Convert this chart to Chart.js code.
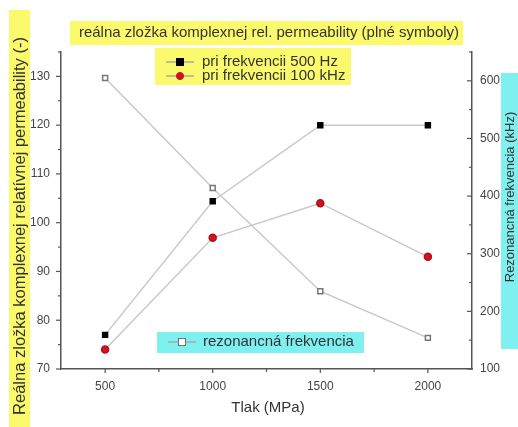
<!DOCTYPE html>
<html>
<head>
<meta charset="utf-8">
<script src="https://cdn.jsdelivr.net/npm/chart.js@4.4.1/dist/chart.umd.min.js"></script>
<style>
  html, body { margin: 0; padding: 0; background: #fff; }
  #wrap { position: relative; width: 518px; height: 427px; }
</style>
</head>
<body>
<div id="wrap"><canvas id="chart" width="518" height="427"></canvas></div>
<script>
// tlak (MPa)
var pressure = [500, 1000, 1500, 2000];
// realna zlozka permeability
var perm500Hz = [77, 104.4, 120, 120];
var perm100kHz = [74, 96.9, 104, 93];
// rezonancna frekvencia (kHz)
var resFreq = [605, 414, 235, 154];

var titleText = 'reálna zložka komplexnej rel. permeability (plné symboly)';
var yTitle = 'Reálna zložka komplexnej relatívnej permeability (-)';
var y1Title = 'Rezonancná frekvencia (kHz)';
var xTitle = 'Tlak (MPa)';
var seriesNames = ['pri frekvencii 500 Hz', 'pri frekvencii 100 kHz', 'rezonancná frekvencia'];

var YELLOW = '#fbf96c';
var CYAN = '#7ff0f0';
var FONT = '"Liberation Sans", Arial, sans-serif';

function pts(ys) {
  return pressure.map(function(p, i) { return {x: p, y: ys[i]}; });
}

// vlastne tick znacky (hlavne/vedlajsie), ako v Origine
var tickPlugin = {
  id: 'ticks',
  afterDraw: function(chart) {
    var ctx = chart.ctx;
    ctx.save();
    ctx.strokeStyle = '#555';
    ctx.lineWidth = 1.2;
    var sx = chart.scales.x, sy = chart.scales.y, sy1 = chart.scales.y1;
    sx.ticks.forEach(function(t) {
      var px = sx.getPixelForValue(t.value);
      var len = t.value % 500 === 0 ? 4 : 3;
      ctx.beginPath(); ctx.moveTo(px, sx.top); ctx.lineTo(px, sx.top + len); ctx.stroke();
    });
    sy.ticks.forEach(function(t) {
      var py = sy.getPixelForValue(t.value);
      var len = t.value % 10 === 0 ? 5 : 3;
      ctx.beginPath(); ctx.moveTo(sy.right, py); ctx.lineTo(sy.right - len, py); ctx.stroke();
    });
    sy1.ticks.forEach(function(t) {
      var py = sy1.getPixelForValue(t.value);
      var len = t.value % 100 === 0 ? 5 : 3;
      ctx.beginPath(); ctx.moveTo(sy1.left, py); ctx.lineTo(sy1.left - len, py); ctx.stroke();
    });
    ctx.restore();
  }
};

function drawMarker(ctx, ds, x, y) {
  ctx.save();
  ctx.strokeStyle = '#a8a8a8';
  ctx.lineWidth = 1.5;
  ctx.beginPath(); ctx.moveTo(x - 14, y); ctx.lineTo(x + 14, y); ctx.stroke();
  ctx.fillStyle = ds.pointBackgroundColor;
  ctx.strokeStyle = ds.pointBorderColor;
  ctx.lineWidth = 1;
  var r = ds.pointRadius;
  if (ds.pointStyle === 'circle') {
    ctx.beginPath(); ctx.arc(x, y, r, 0, Math.PI * 2); ctx.fill(); ctx.stroke();
  } else {
    ctx.fillRect(x - r, y - r, 2 * r, 2 * r);
    ctx.strokeRect(x - r, y - r, 2 * r, 2 * r);
  }
  ctx.restore();
}

// titulky a legendy v farebnych ramceckoch
var boxPlugin = {
  id: 'boxes',
  afterDraw: function(chart) {
    var ctx = chart.ctx;
    var ds = chart.data.datasets;
    ctx.save();
    ctx.textBaseline = 'middle';

    // lavy titulok osi
    ctx.fillStyle = YELLOW;
    ctx.fillRect(9, 10, 21, 417);
    ctx.save();
    ctx.translate(20, 226);
    ctx.rotate(-Math.PI / 2);
    ctx.fillStyle = '#333';
    ctx.font = '16.5px ' + FONT;
    ctx.textAlign = 'center';
    ctx.fillText(yTitle, 0, 0);
    ctx.restore();

    // pravy titulok osi
    ctx.fillStyle = CYAN;
    ctx.fillRect(501, 73, 17, 276);
    ctx.save();
    ctx.translate(510, 197);
    ctx.rotate(-Math.PI / 2);
    ctx.fillStyle = '#333';
    ctx.font = '13px ' + FONT;
    ctx.textAlign = 'center';
    ctx.fillText(y1Title, 0, 0);
    ctx.restore();

    // horny titulok
    ctx.fillStyle = YELLOW;
    ctx.fillRect(70, 21, 393, 24);
    ctx.fillStyle = '#333';
    ctx.font = '15px ' + FONT;
    ctx.textAlign = 'center';
    ctx.fillText(titleText, 269, 33);

    // legenda plne symboly
    ctx.fillStyle = YELLOW;
    ctx.fillRect(155, 48, 196, 37);
    drawMarker(ctx, ds[0], 180, 62);
    drawMarker(ctx, ds[1], 180, 76);
    ctx.fillStyle = '#333';
    ctx.font = '15px ' + FONT;
    ctx.textAlign = 'left';
    ctx.fillText(seriesNames[0], 202, 62);
    ctx.fillText(seriesNames[1], 202, 76);

    // legenda rezonancna frekvencia
    ctx.fillStyle = CYAN;
    ctx.fillRect(157, 332, 207, 21);
    drawMarker(ctx, ds[2], 182, 342);
    ctx.fillStyle = '#333';
    ctx.font = '15px ' + FONT;
    ctx.textAlign = 'left';
    ctx.fillText(seriesNames[2], 203, 342);

    // titulok osi x
    ctx.font = '15px ' + FONT;
    ctx.textAlign = 'center';
    ctx.fillText(xTitle, 268, 408);
    ctx.restore();
  }
};

var ctx = document.getElementById('chart');
new Chart(ctx, {
  type: 'line',
  data: {
    datasets: [{
      label: seriesNames[0],
      data: pts(perm500Hz),
      yAxisID: 'y',
      borderColor: '#c8c8c8',
      borderWidth: 1.5,
      pointStyle: 'rect',
      pointRadius: 3.5,
      pointBackgroundColor: '#000',
      pointBorderColor: '#000',
      order: 1
    }, {
      label: seriesNames[1],
      data: pts(perm100kHz),
      yAxisID: 'y',
      borderColor: '#c8c8c8',
      borderWidth: 1.5,
      pointStyle: 'circle',
      pointRadius: 3.5,
      pointBackgroundColor: '#d8101c',
      pointBorderColor: '#b0101a',
      order: 1
    }, {
      label: seriesNames[2],
      data: pts(resFreq),
      yAxisID: 'y1',
      borderColor: '#c8c8c8',
      borderWidth: 1.5,
      pointStyle: 'rect',
      pointRadius: 3.5,
      pointBackgroundColor: '#fff',
      pointBorderColor: '#777',
      order: 2
    }]
  },
  options: {
    responsive: false,
    animation: false,
    layout: { padding: { top: 52, right: 0, bottom: 0, left: 0 } },
    plugins: {
      legend: { display: false },
      tooltip: { enabled: false }
    },
    scales: {
      x: {
        type: 'linear',
        min: 295,
        max: 2205,
        afterBuildTicks: function(s) {
          s.ticks = s.ticks.filter(function(t) { return t.value % 250 === 0; });
        },
        afterFit: function(s) { s.height = 58; },
        grid: { display: false, drawTicks: false },
        border: { display: true, color: '#555', width: 1.5 },
        ticks: {
          stepSize: 250,
          padding: 10,
          maxRotation: 0,
          autoSkip: false,
          color: '#444',
          font: { family: FONT, size: 12 },
          callback: function(v) { return v % 500 === 0 ? v : ''; }
        }
      },
      y: {
        position: 'left',
        min: 70,
        max: 135,
        afterFit: function(s) { s.width = 61; },
        grid: { display: false, drawTicks: false },
        border: { display: true, color: '#555', width: 1.5 },
        ticks: {
          stepSize: 5,
          padding: 11,
          autoSkip: false,
          color: '#444',
          font: { family: FONT, size: 12 },
          callback: function(v) { return v % 10 === 0 ? v : ''; }
        }
      },
      y1: {
        position: 'right',
        min: 100,
        max: 650,
        afterFit: function(s) { s.width = 46; },
        grid: { display: false, drawTicks: false },
        border: { display: true, color: '#555', width: 1.5 },
        ticks: {
          stepSize: 50,
          padding: 8,
          autoSkip: false,
          color: '#444',
          font: { family: FONT, size: 12 },
          callback: function(v) { return v % 100 === 0 ? v : ''; }
        }
      }
    }
  },
  plugins: [tickPlugin, boxPlugin]
});
</script>
</body>
</html>
